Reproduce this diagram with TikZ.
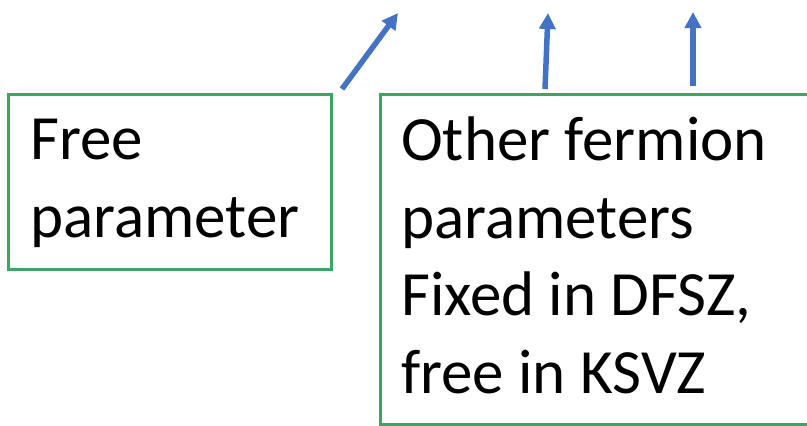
\documentclass[tikz,border=0pt]{standalone}
\usepackage{fontspec}
\setmainfont{Carlito}
\usetikzlibrary{arrows.meta}
\definecolor{boxgreen}{RGB}{60,165,100}
\definecolor{arrowblue}{RGB}{68,114,196}
\begin{document}
\begin{tikzpicture}[x=1pt,y=-1pt,
  frame/.style={draw=boxgreen,line width=2.5pt,inner sep=0pt,anchor=north west},
  label/.style={anchor=base west,align=left,inner sep=0pt,
    font=\fontsize{63pt}{77.5pt}\selectfont},
  conn/.style={draw=arrowblue,line width=5.5pt,-{Triangle[width=16pt,length=16pt]}}]
\useasboundingbox (0,0) rectangle (807,426);
\node[frame,minimum width=323pt,minimum height=175pt] (b1) at (7,93) {};
\node[frame,minimum width=460pt,minimum height=330pt] (b2) at (379,93) {};
\node[label] (t1) at (30,237) {Free\\parameter};
\node[label] (t2) at (401,393) {Other fermion\\parameters\\Fixed in DFSZ,\\free in KSVZ};
\coordinate (s1) at (342,89);
\coordinate (e1) at (398,13);
\coordinate (s2) at (545,89);
\coordinate (e2) at (548,13);
\coordinate (s3) at (693,86);
\coordinate (e3) at (693,12);
\draw[conn] (s1) -- (e1);
\draw[conn] (s2) -- (e2);
\draw[conn] (s3) -- (e3);
\end{tikzpicture}
\end{document}
